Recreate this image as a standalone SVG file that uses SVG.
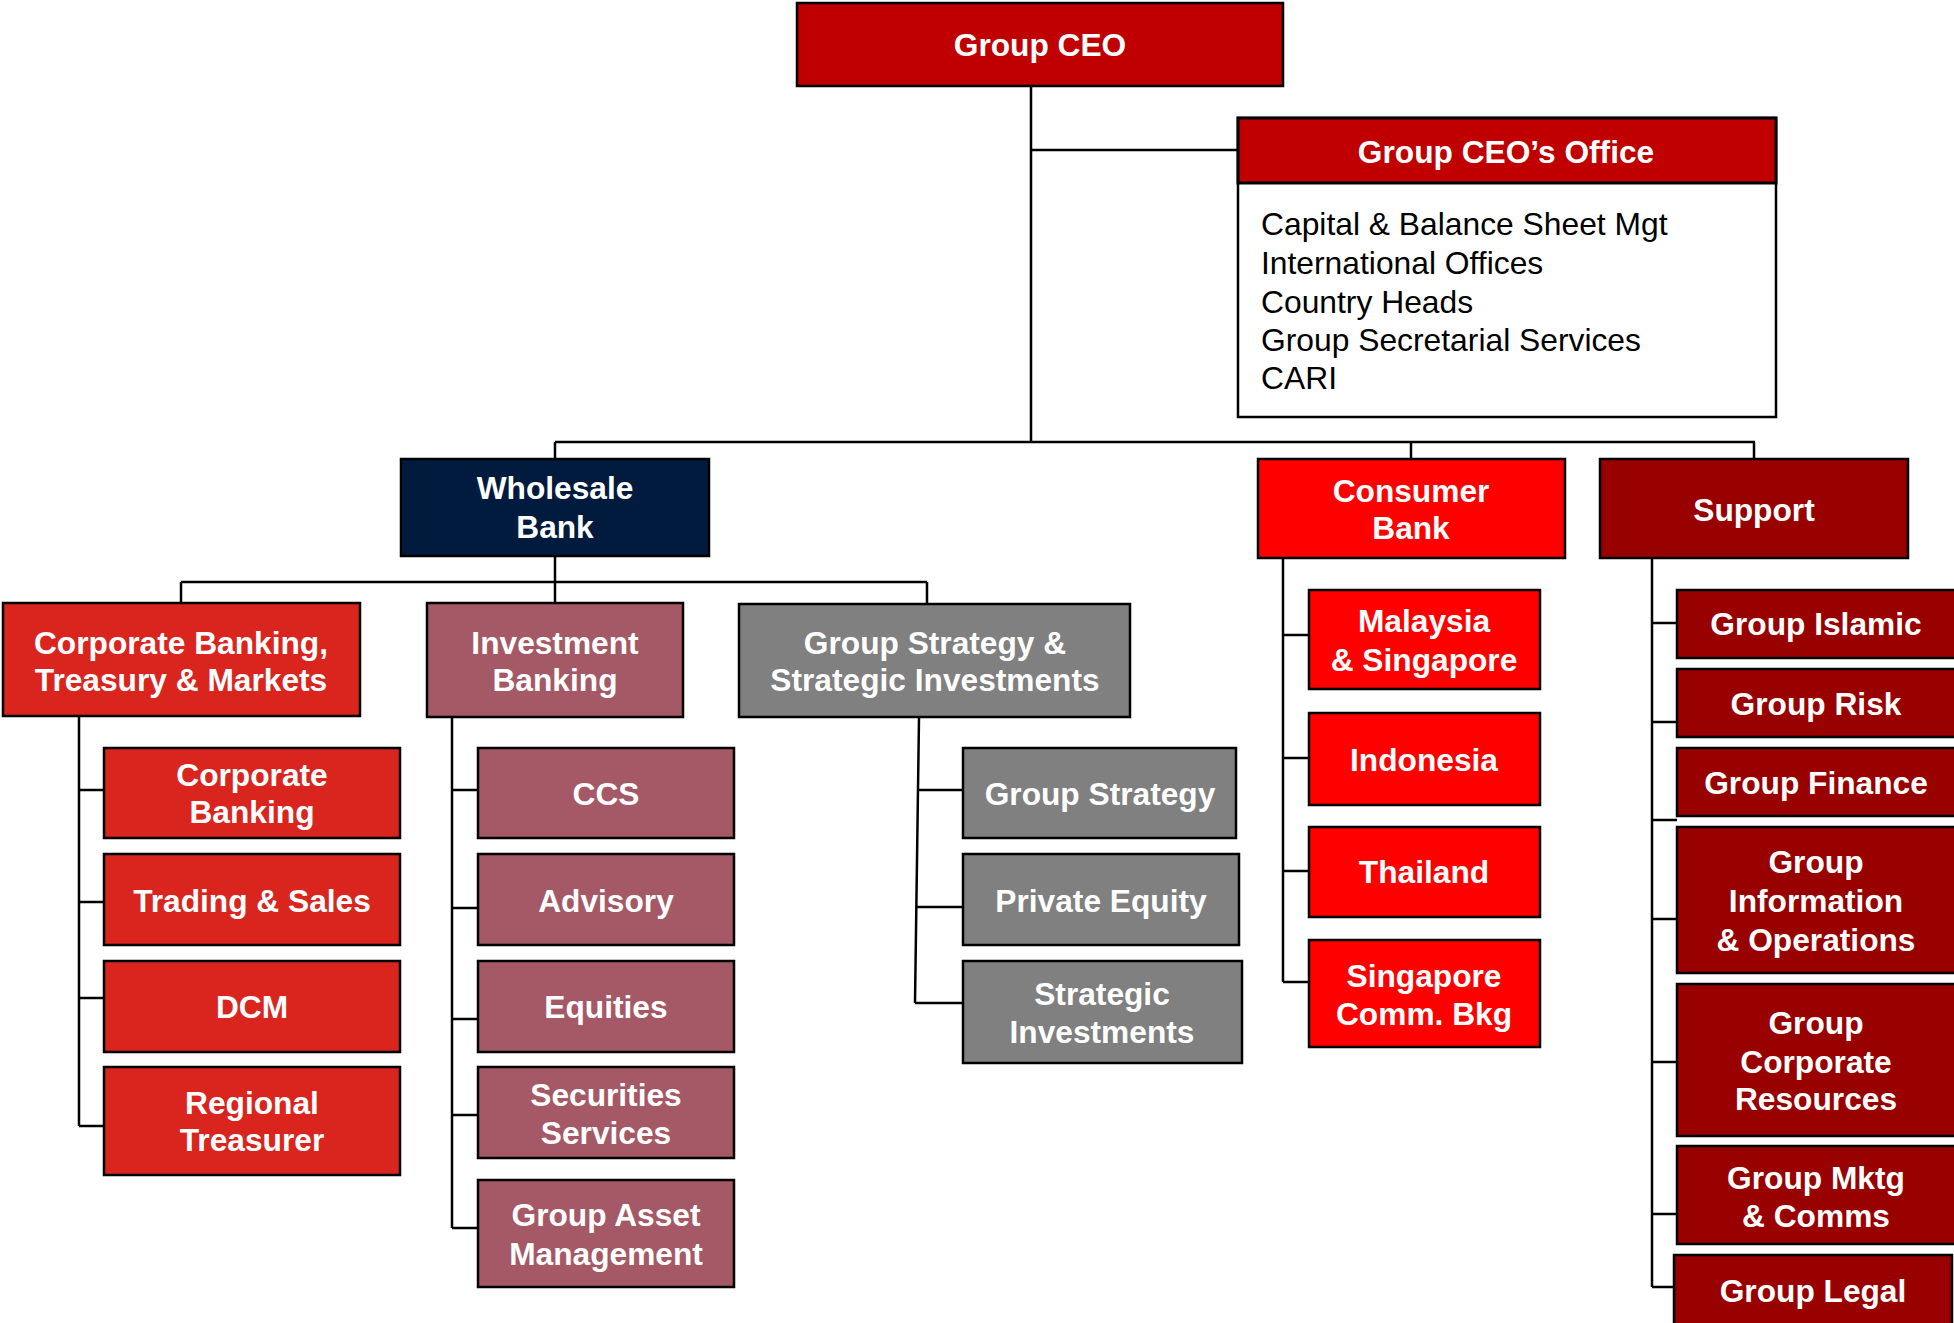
<svg xmlns="http://www.w3.org/2000/svg" width="1954" height="1323" viewBox="0 0 1954 1323">
<style>
rect{stroke:#000;stroke-width:2.5}
.ceo{fill:#C00000}.wb{fill:#011B3F}.cb{fill:#DA251F}.ib{fill:#A55866}.gs{fill:#808080}.con{fill:#FF0000}.sup{fill:#990000}.wh{fill:#FFFFFF}
text{font-family:"Liberation Sans",Arial,sans-serif}
.t{fill:#fff;font-weight:bold;font-size:31.7px;text-anchor:middle}
.b{fill:#000;font-size:31.8px}
#connectors path{fill:none;stroke:#000;stroke-width:2.5}
</style>
<g id="connectors">
<path d="M1031 87V442M1031 150H1238"/>
<path d="M555 442H1755M555 442V459M1411 442V459M1754 442V459"/>
<path d="M555 556V604M181 582H927M181 582V603M927 582V604"/>
<path d="M79 716V1126M79 790H104M79 902H104M79 998H104M79 1126H104"/>
<path d="M452 717V1228M452 790H478M452 908H478M452 1019H478M452 1115H478M452 1228H478"/>
<path d="M919 718L915 1003M917 790H963M916 907H963M915 1003H963"/>
<path d="M1283 558V982M1283 635H1309M1283 758H1309M1283 871H1309M1283 982H1309"/>
<path d="M1652 558V1287M1652 623H1677M1652 722H1677M1652 820H1677M1652 919H1677M1652 1062H1677M1652 1214H1677M1652 1287H1674"/>
</g>
<g id="ceo"><rect class="ceo" x="797" y="3" width="486" height="83"/><text class="t" x="1040" y="56">Group CEO</text></g>
<g id="ceo-office">
<rect class="wh" x="1238" y="118" width="538" height="299"/>
<rect class="ceo" x="1238" y="118" width="538" height="65" style="stroke-width:3"/>
<text class="t" x="1506" y="163">Group CEO’s Office</text>
<text class="b" x="1261" y="235">Capital &amp; Balance Sheet Mgt</text>
<text class="b" x="1261" y="274">International Offices</text>
<text class="b" x="1261" y="313">Country Heads</text>
<text class="b" x="1261" y="351">Group Secretarial Services</text>
<text class="b" x="1261" y="389">CARI</text>
</g>
<g id="wholesale"><rect class="wb" x="401" y="459" width="308" height="97"/><text class="t" x="555" y="499">Wholesale</text><text class="t" x="555" y="538">Bank</text></g>
<g id="consumer"><rect class="con" x="1258" y="459" width="307" height="99"/><text class="t" x="1411" y="502">Consumer</text><text class="t" x="1411" y="539">Bank</text></g>
<g id="support"><rect class="sup" x="1600" y="459" width="308" height="99"/><text class="t" x="1754" y="521">Support</text></g>
<g id="cbtm"><rect class="cb" x="3" y="603" width="357" height="113"/><text class="t" x="181" y="654">Corporate Banking,</text><text class="t" x="181" y="691">Treasury &amp; Markets</text></g>
<g id="ib"><rect class="ib" x="427" y="603" width="256" height="114"/><text class="t" x="555" y="654">Investment</text><text class="t" x="555" y="691">Banking</text></g>
<g id="gssi"><rect class="gs" x="739" y="604" width="391" height="113"/><text class="t" x="935" y="654">Group Strategy &amp;</text><text class="t" x="935" y="691">Strategic Investments</text></g>
<g id="corp-banking"><rect class="cb" x="104" y="748" width="296" height="90"/><text class="t" x="252" y="786">Corporate</text><text class="t" x="252" y="823">Banking</text></g>
<g id="trading-sales"><rect class="cb" x="104" y="854" width="296" height="91"/><text class="t" x="252" y="912">Trading &amp; Sales</text></g>
<g id="dcm"><rect class="cb" x="104" y="961" width="296" height="91"/><text class="t" x="252" y="1018">DCM</text></g>
<g id="regional-treasurer"><rect class="cb" x="104" y="1067" width="296" height="108"/><text class="t" x="252" y="1114">Regional</text><text class="t" x="252" y="1151">Treasurer</text></g>
<g id="ccs"><rect class="ib" x="478" y="748" width="256" height="90"/><text class="t" x="606" y="805">CCS</text></g>
<g id="advisory"><rect class="ib" x="478" y="854" width="256" height="91"/><text class="t" x="606" y="912">Advisory</text></g>
<g id="equities"><rect class="ib" x="478" y="961" width="256" height="91"/><text class="t" x="606" y="1018">Equities</text></g>
<g id="securities-services"><rect class="ib" x="478" y="1067" width="256" height="91"/><text class="t" x="606" y="1106">Securities</text><text class="t" x="606" y="1144">Services</text></g>
<g id="group-asset-mgmt"><rect class="ib" x="478" y="1180" width="256" height="107"/><text class="t" x="606" y="1226">Group Asset</text><text class="t" x="606" y="1265">Management</text></g>
<g id="group-strategy"><rect class="gs" x="963" y="748" width="273" height="90"/><text class="t" x="1100" y="805">Group Strategy</text></g>
<g id="private-equity"><rect class="gs" x="963" y="854" width="276" height="91"/><text class="t" x="1101" y="912">Private Equity</text></g>
<g id="strategic-investments"><rect class="gs" x="963" y="961" width="279" height="102"/><text class="t" x="1102" y="1005">Strategic</text><text class="t" x="1102" y="1043">Investments</text></g>
<g id="malaysia-singapore"><rect class="con" x="1309" y="590" width="231" height="99"/><text class="t" x="1424" y="632">Malaysia</text><text class="t" x="1424" y="671">&amp; Singapore</text></g>
<g id="indonesia"><rect class="con" x="1309" y="713" width="231" height="92"/><text class="t" x="1424" y="771">Indonesia</text></g>
<g id="thailand"><rect class="con" x="1309" y="827" width="231" height="90"/><text class="t" x="1424" y="883">Thailand</text></g>
<g id="singapore-comm"><rect class="con" x="1309" y="940" width="231" height="107"/><text class="t" x="1424" y="987">Singapore</text><text class="t" x="1424" y="1025">Comm. Bkg</text></g>
<g id="group-islamic"><rect class="sup" x="1677" y="590" width="285" height="68"/><text class="t" x="1816" y="635">Group Islamic</text></g>
<g id="group-risk"><rect class="sup" x="1677" y="669" width="285" height="68"/><text class="t" x="1816" y="715">Group Risk</text></g>
<g id="group-finance"><rect class="sup" x="1677" y="748" width="285" height="68"/><text class="t" x="1816" y="794">Group Finance</text></g>
<g id="group-info-ops"><rect class="sup" x="1677" y="827" width="285" height="146"/><text class="t" x="1816" y="873">Group</text><text class="t" x="1816" y="912">Information</text><text class="t" x="1816" y="951">&amp; Operations</text></g>
<g id="group-corp-resources"><rect class="sup" x="1677" y="984" width="285" height="152"/><text class="t" x="1816" y="1034">Group</text><text class="t" x="1816" y="1073">Corporate</text><text class="t" x="1816" y="1110">Resources</text></g>
<g id="group-mktg-comms"><rect class="sup" x="1677" y="1146" width="285" height="98"/><text class="t" x="1816" y="1189">Group Mktg</text><text class="t" x="1816" y="1227">&amp; Comms</text></g>
<g id="group-legal"><rect class="sup" x="1674" y="1255" width="278" height="80"/><text class="t" x="1813" y="1302">Group Legal</text></g>
</svg>
